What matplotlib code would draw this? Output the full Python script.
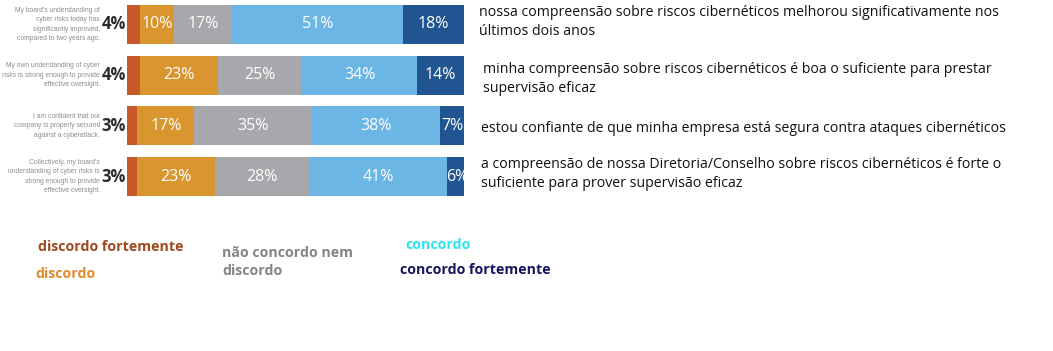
import numpy as np
import matplotlib
matplotlib.use('Agg')
from matplotlib import pyplot as plt

# dados
perguntas_en = ["My board's understanding of\ncyber risks today has\nsignificantly improved,\ncompared to two years ago.",
                "My own understanding of cyber\nrisks is strong enough to provide\neffective oversight.",
                "I am confident that our\ncompany is properly secured\nagainst a cyberattack.",
                "Collectively, my board's\nunderstanding of cyber risks is\nstrong enough to provide\neffective oversight."]
perguntas_pt = ["nossa compreensão sobre riscos cibernéticos melhorou significativamente nos\núltimos dois anos",
                "minha compreensão sobre riscos cibernéticos é boa o suficiente para prestar\nsupervisão eficaz",
                "estou confiante de que minha empresa está segura contra ataques cibernéticos",
                "a compreensão de nossa Diretoria/Conselho sobre riscos cibernéticos é forte o\nsuficiente para prover supervisão eficaz"]
discordo_fortemente = [4, 4, 3, 3]
discordo = [10, 23, 17, 23]
neutro = [17, 25, 35, 28]
concordo = [51, 34, 38, 41]
concordo_fortemente = [18, 14, 7, 6]

series = [discordo_fortemente, discordo, neutro, concordo, concordo_fortemente]
cores = ['#c8582a', '#d9962f', '#a7a8ab', '#6cb6e6', '#215592']

W, H = 1053, 351
fig = plt.figure(figsize=(W/100, H/100), dpi=100)
fig.patch.set_facecolor('white')

def fx(px):
    return px / W

def fy(py):
    return 1 - py / H

# eixo das barras: x de 127 a 464 px, linhas de ~-1 a ~202 px
ax = fig.add_axes([fx(127), fy(202), fx(464) - fx(127), (202 + 1) / H])
y = np.arange(4)
left = np.zeros(4)
for i, (vals, cor) in enumerate(zip(series, cores)):
    vals = np.array(vals)
    ax.barh(y, vals, left=left, color=cor, height=0.77, edgecolor='none')
    for j in range(4):
        if i == 0:
            ax.text(-0.3, y[j], f'{vals[j]}%', ha='right', va='center',
                    fontsize=12, fontweight='bold', color='#2b2b2b', family='Open Sans')
        else:
            ax.text(left[j] + vals[j] / 2, y[j], f'{vals[j]}%', ha='center', va='center',
                    fontsize=11.5, color='white', family='Open Sans')
    left += vals
ax.set_xlim(0, 100)
ax.set_ylim(3.5, -0.5)
ax.axis('off')

# rótulos originais em inglês, à esquerda
for j, txt in enumerate(perguntas_en):
    ax.text(-0.08, y[j], txt, transform=ax.get_yaxis_transform(), ha='right', va='center',
            fontsize=4.9, color='#8c8c8c', family='Liberation Sans',
            linespacing=1.5, multialignment='right')

# textos em português, à direita
pos_pt = [(479, 22), (483, 79), (481, 129), (481, 174)]
for (px, py), txt in zip(pos_pt, perguntas_pt):
    fig.text(fx(px), fy(py), txt, ha='left', va='center', fontsize=10.2,
             color='#111111', family='Open Sans', linespacing=1.3)

# legenda
legenda = [("discordo fortemente", 38, 247, '#a0471c'),
           ("discordo", 35, 274, '#e2892a'),
           ("não concordo nem\ndiscordo", 222, 262, '#848484'),
           ("concordo", 405, 245, '#2fe4ee'),
           ("concordo fortemente", 400, 270, '#151560')]
for txt, px, py, cor in legenda:
    fig.text(fx(px), fy(py), txt, ha='left', va='center', fontsize=10.2,
             fontweight='bold', color=cor, family='Open Sans', linespacing=1.3)

plt.savefig('out.png', dpi=100)
